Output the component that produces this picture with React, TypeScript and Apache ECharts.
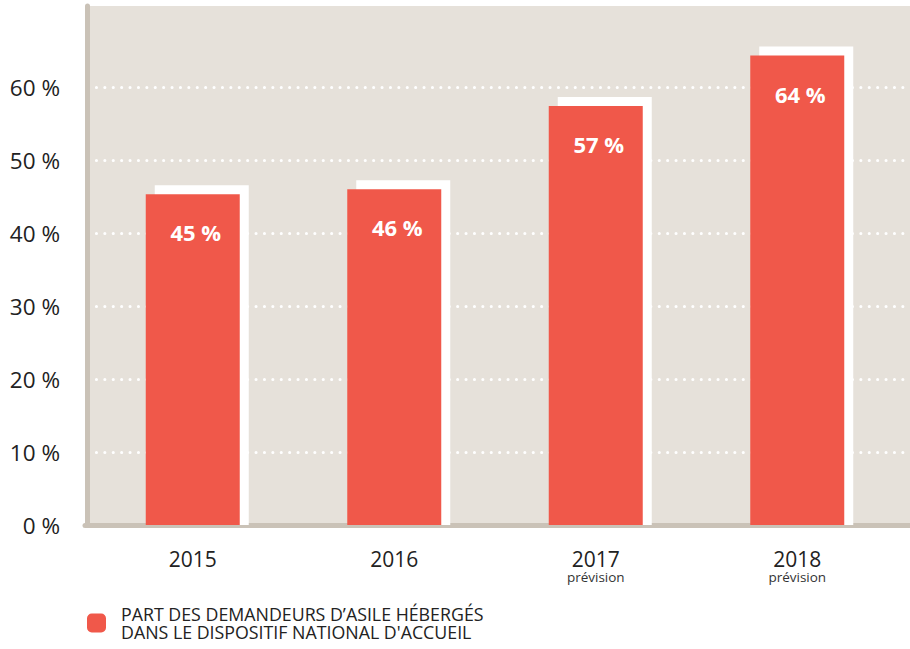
import React, { useEffect, useRef } from "react";
import * as echarts from "echarts";

const categories = ["2015", "2016", "2017", "2018"];
const subLabels = ["", "", "prévision", "prévision"];
const values = [45.3, 46.0, 57.4, 64.3];
const yTicks = [0, 10, 20, 30, 40, 50, 60];
const seriesName = "PART DES DEMANDEURS D’ASILE HÉBERGÉS\nDANS LE DISPOSITIF NATIONAL D'ACCUEIL";

const RED = "#f0584a";
const BEIGE = "#e6e1da";
const AXIS = "#cac2b7";
const TEXT = "#222222";
const FONT = "'Open Sans', 'Noto Sans', sans-serif";

const BAR_W = 94;
const SHIFT_X = 9;
const SHIFT_Y = 9;

const TOP_ALL = 6;
const TOP_TICKS = 87;
const BOTTOM = 124;
const H = 649;
const Y_MAX_TICK = yTicks[yTicks.length - 1];
const Y_MAX_ALL = (Y_MAX_TICK * (H - BOTTOM - TOP_ALL)) / (H - BOTTOM - TOP_TICKS);

export default function App() {
  const ref = useRef<HTMLDivElement>(null);
  useEffect(() => {
    document.body.style.margin = "0";
    if (!ref.current) return;
    const chart = echarts.init(ref.current, null, { renderer: "svg" });
    const option: any = {
      animation: false,
      textStyle: { fontFamily: FONT },
      grid: [
        { left: 85, right: 0, top: TOP_ALL, bottom: BOTTOM, show: true, backgroundColor: BEIGE, borderWidth: 0 },
        { left: 90, right: 0, top: TOP_TICKS, bottom: BOTTOM },
        { left: 92, right: 12, top: TOP_ALL, bottom: BOTTOM },
      ],
      xAxis: [
        {
          type: "category", gridIndex: 0, data: categories, offset: 2.5,
          axisLine: { show: true, lineStyle: { color: AXIS, width: 5 } },
          axisTick: { show: false }, axisLabel: { show: false }, splitLine: { show: false },
        },
        { type: "category", gridIndex: 1, data: categories, show: false },
        {
          type: "category", gridIndex: 2, data: categories,
          axisLine: { show: false }, axisTick: { show: false },
          axisLabel: {
            margin: 22.5,
            formatter: (v: string, i: number) =>
              subLabels[i] ? `{a|${v}}\n{b|${subLabels[i]}}` : `{a|${v}}`,
            rich: {
              a: { fontFamily: FONT, fontSize: 21, lineHeight: 22, color: TEXT },
              b: { fontFamily: FONT, fontSize: 13.5, lineHeight: 15, color: "#333" },
            },
          },
        },
      ],
      yAxis: [
        {
          type: "value", gridIndex: 0, min: 0, max: Y_MAX_ALL, offset: -2.5,
          axisLine: { show: true, lineStyle: { color: AXIS, width: 5 } },
          axisTick: { show: false }, axisLabel: { show: false }, splitLine: { show: false },
        },
        {
          type: "value", gridIndex: 1, min: 0, max: Y_MAX_TICK, interval: 10,
          axisLine: { show: false }, axisTick: { show: false },
          axisLabel: {
            margin: 30, fontFamily: FONT, fontSize: 22.5, color: TEXT,
            formatter: (v: number) => (yTicks.includes(v) ? `${v} %` : ""),
          },
          splitLine: {
            show: true, showMinLine: false,
            lineStyle: { color: "#ffffff", width: 3, type: [0.1, 8.3], cap: "round", dashOffset: 1.6 },
          },
        },
        { type: "value", gridIndex: 2, min: 0, max: Y_MAX_ALL, show: false },
      ],
      legend: {
        left: 87, top: 590, padding: 0,
        icon: "roundRect", itemWidth: 19, itemHeight: 19,
        data: [seriesName],
        textStyle: {
          fontFamily: FONT, fontSize: 17.8, lineHeight: 18, color: "#222",
          padding: [30, 0, 0, 10],
        },
      },
      series: [
        {
          type: "custom", name: "shadow", xAxisIndex: 2, yAxisIndex: 2, z: 1,
          data: values.map((v, i) => [i, v]),
          renderItem: (params: any, api: any) => {
            const top = api.coord([api.value(0), api.value(1)]);
            const base = api.coord([api.value(0), 0]);
            return {
              type: "rect",
              shape: {
                x: top[0] - BAR_W / 2 + SHIFT_X,
                y: top[1] - SHIFT_Y,
                width: BAR_W,
                height: base[1] - top[1] + SHIFT_Y,
              },
              style: { fill: "#ffffff" },
            };
          },
          silent: true,
        },
        {
          type: "bar", name: seriesName, xAxisIndex: 2, yAxisIndex: 2, z: 2,
          data: values, barWidth: BAR_W,
          itemStyle: { color: RED },
          label: {
            show: true, position: "insideTop", distance: 27, offset: [3, 0],
            fontFamily: FONT, fontWeight: "bold", fontSize: 22, color: "#ffffff",
            formatter: (p: any) => `${Math.round(p.value)} %`,
          },
        },
      ],
    };
    chart.setOption(option);
    return () => chart.dispose();
  }, []);
  return <div ref={ref} style={{ width: 910, height: 649 }} />;
}
